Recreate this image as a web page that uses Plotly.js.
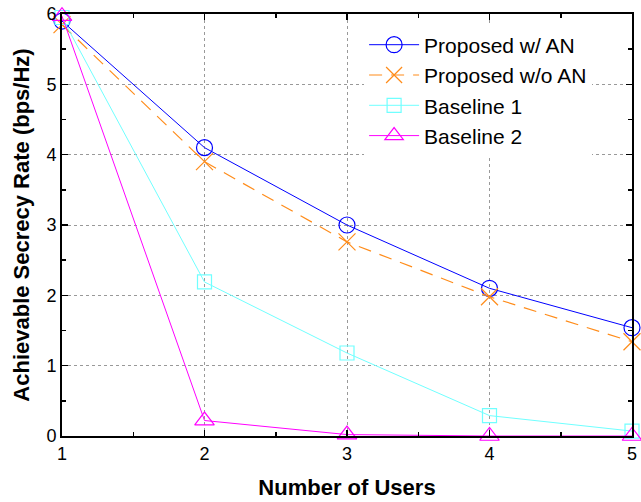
<!DOCTYPE html>
<html><head><meta charset="utf-8">
<script src="https://cdn.plot.ly/plotly-3.0.1.min.js"></script>
<style>body{margin:0;background:#fff}#chart{width:641px;height:502px}</style>
</head><body><div id="chart"></div>
<script>
const users = [1, 2, 3, 4, 5];
const proposedAN = [5.9, 4.1, 3.0, 2.1, 1.54];
const proposedNoAN = [5.85, 3.9, 2.76, 1.98, 1.34];
const baseline1 = [5.95, 2.19, 1.18, 0.29, 0.07];
const baseline2 = [5.97, 0.22, 0.02, 0.0, 0.0];
const names = ['Proposed w/ AN', 'Proposed w/o AN', 'Baseline 1', 'Baseline 2'];

const traces = [
  {x: users, y: proposedAN, name: names[0], mode: 'lines+markers', cliponaxis: false,
   line: {color: '#0000ff', width: 1}, marker: {symbol: 'circle-open', size: 16, color: '#0000ff', line: {width: 1.2}}},
  {x: users, y: proposedNoAN, name: names[1], mode: 'lines+markers', cliponaxis: false,
   line: {color: '#ff8c1a', width: 1.2, dash: '13px,9px'}, marker: {symbol: 'x-thin-open', size: 17, color: '#ff8c1a', line: {width: 1.2, color: '#ff8c1a'}}},
  {x: users, y: baseline1, name: names[2], mode: 'lines+markers', cliponaxis: false,
   line: {color: '#70ffff', width: 1}, marker: {symbol: 'square-open', size: 14, color: '#70ffff', line: {width: 1.2}}},
  {x: users, y: baseline2, name: names[3], mode: 'lines+markers', cliponaxis: false,
   line: {color: '#ff00ff', width: 1}, marker: {symbol: 'triangle-up-open', size: 17, color: '#ff00ff', line: {width: 1.2}}}
];

const axisCommon = {
  showline: true, linecolor: '#000', linewidth: 2, mirror: 'allticks',
  ticks: 'inside', ticklen: 6, tickwidth: 1.5, tickcolor: '#000',
  showgrid: true, gridcolor: '#999', griddash: 'dot', gridwidth: 1,
  zeroline: false,
  tickfont: {family: 'Liberation Sans, Arial, sans-serif', size: 18, color: '#000'},
  minor: {dtick: 0.5, ticks: 'inside', ticklen: 4, tickwidth: 1.5, tickcolor: '#000', showgrid: false}
};

const layout = {
  width: 641, height: 502,
  margin: {l: 62, r: 9, t: 14, b: 66},
  paper_bgcolor: '#fff', plot_bgcolor: '#fff',
  font: {family: 'Liberation Sans, Arial, sans-serif', color: '#000'},
  xaxis: Object.assign({}, axisCommon, {
    range: [1, 5], dtick: 1, tick0: 1,
    title: {text: '<b>Number of Users</b>', font: {size: 22}, standoff: 17}
  }),
  yaxis: Object.assign({}, axisCommon, {
    range: [0, 6], dtick: 1, tick0: 0,
    title: {text: '<b>Achievable Secrecy Rate (bps/Hz)</b>', font: {size: 22}, standoff: 11}
  }),
  legend: {
    x: 0.53, y: 0.975, xanchor: 'left', yanchor: 'top',
    bgcolor: '#fff', borderwidth: 0,
    font: {size: 21, color: '#000'}, tracegroupgap: 0, itemwidth: 50
  },
  showlegend: true
};

Plotly.newPlot('chart', traces, layout, {displayModeBar: false, staticPlot: true});
</script>
</body></html>
